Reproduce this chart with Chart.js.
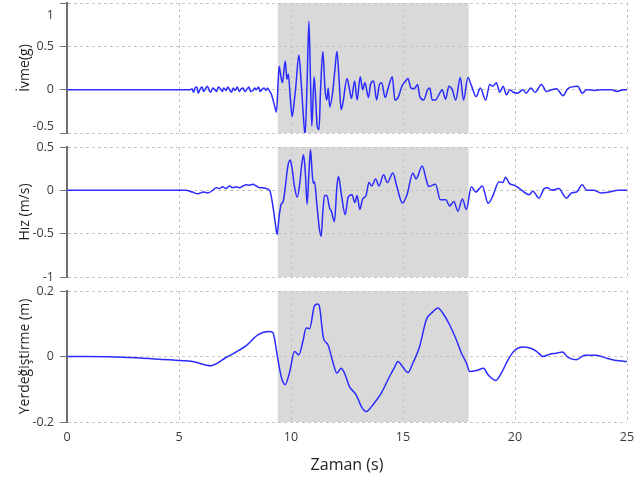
<!DOCTYPE html>
<html>
<head>
<meta charset="utf-8">
<script src="https://cdn.jsdelivr.net/npm/chart.js@4.4.0/dist/chart.umd.min.js"></script>
<style>
  body { margin: 0; background: #fff; }
  #wrap { position: relative; width: 641px; height: 481px; }
  canvas { position: absolute; left: 0; top: 0; }
</style>
</head>
<body>
<div id="wrap">
  <canvas id="acc-chart" width="641" height="481"></canvas>
  <canvas id="vel-chart" width="641" height="481"></canvas>
  <canvas id="disp-chart" width="641" height="481"></canvas>
</div>
<script>
// time window of strong shaking (s), shaded grey
const strongMotion = [9.41, 17.93];

// acceleration (g)
const accTime = [0, 5.5, 5.58, 5.65, 5.72, 5.8, 5.86, 5.95, 6.03, 6.1, 6.18, 6.27, 6.35, 6.42, 6.5, 6.6,
  6.68, 6.75, 6.85, 6.93, 7.0, 7.1, 7.18, 7.25, 7.35, 7.42, 7.5, 7.6, 7.7, 7.78, 7.85, 7.95, 8.05,
  8.12, 8.2, 8.3, 8.38, 8.45, 8.55, 8.62, 8.7, 8.8, 8.88, 8.95,
  9.05, 9.12, 9.2, 9.3, 9.35, 9.42, 9.47, 9.55, 9.62, 9.74, 9.82, 9.88, 9.97, 10.05, 10.15, 10.22,
  10.35, 10.45, 10.55, 10.63, 10.72, 10.8, 10.87, 10.93, 11.03, 11.1, 11.17, 11.25, 11.32, 11.42,
  11.52, 11.6, 11.66, 11.73, 11.85, 11.95, 12.05, 12.15, 12.24, 12.32, 12.5, 12.6, 12.7, 12.84,
  12.95, 13.09, 13.2, 13.3, 13.46, 13.55, 13.69, 13.82, 13.95, 14.05, 14.2, 14.35, 14.52, 14.64,
  14.8, 14.95, 15.12, 15.22, 15.35, 15.5, 15.65, 15.75, 15.92, 16.1, 16.2, 16.3, 16.45, 16.6,
  16.75, 16.9, 17.05, 17.2, 17.35, 17.56, 17.7, 17.9, 18.05, 18.27, 18.45, 18.69, 18.87, 19.02,
  19.17, 19.32, 19.47, 19.62, 19.77, 19.92, 20.12, 20.35, 20.5, 20.7, 20.9, 21.18, 21.4, 21.55,
  21.85, 22.15, 22.35, 22.8, 23.0, 23.2, 23.55, 23.85, 24.3, 24.55, 24.85, 25];
const accG = [0, 0, 0.01, -0.03, 0.02, 0.03, -0.04, 0.01, 0.03, -0.02, 0.01, 0.04, -0.01, -0.03, 0.02, 0.0,
  -0.02, 0.03, 0.01, -0.02, 0.02, -0.01, 0.03, 0.0, -0.03, 0.02, -0.01, 0.03, -0.02, 0.01, 0.02, -0.02, 0.01,
  0.03, -0.02, -0.01, 0.02, 0.0, 0.03, -0.02, 0.0, 0.02, -0.01, 0.02,
  -0.02, -0.05, -0.12, -0.22, -0.26, 0.05, 0.27, 0.15, 0.08, 0.33, 0.12, 0.18, -0.1, -0.31, -0.12, 0.05,
  0.40, 0.1, -0.3, -0.52, 0.1, 0.79, 0.1, -0.42, 0.15, -0.1, -0.42, -0.46, 0.0, 0.44,
  0.0, -0.12, 0.02, -0.2, -0.05, 0.2, 0.44, 0.1, -0.23, -0.15, 0.13, 0.02, -0.1, 0.1,
  -0.12, 0.15, 0.0, 0.08, -0.09, 0.06, 0.1, -0.12, 0.06, 0.08, -0.09, 0.03, 0.15, -0.12,
  -0.08, 0.04, 0.1, 0.13, 0.02, 0.01, 0.06, -0.08, -0.12, 0.0, 0.02, -0.12, -0.12, -0.06,
  0.0, -0.11, 0.04, 0.0, -0.12, 0.14, -0.12, 0.14, 0.05, -0.08, 0.02, -0.12, 0.06, 0.04,
  0.08, -0.03, 0.04, -0.06, 0.0, -0.03, -0.04, 0.0, -0.04, 0.02, -0.03, 0.06, -0.02, -0.01,
  0.01, -0.07, 0.01, 0.04, -0.04, 0.0, -0.01, 0.0, 0.0, -0.02, 0.0, 0.0];

// velocity (m/s)
const velTime = [0, 5.3, 5.6, 5.84, 6.1, 6.3, 6.5, 6.66, 6.8, 6.95, 7.1, 7.25, 7.4, 7.55, 7.7, 7.85,
  8.0, 8.15, 8.3, 8.45, 8.6, 8.75, 8.9, 9.05, 9.19, 9.3, 9.38, 9.47, 9.56, 9.65, 9.75, 9.86, 9.96,
  10.05, 10.15, 10.28, 10.4, 10.48, 10.56, 10.64, 10.72, 10.8, 10.87, 10.95, 11.0, 11.05, 11.15,
  11.27, 11.35, 11.42, 11.5, 11.6, 11.72, 11.8, 11.94, 12.05, 12.12, 12.25, 12.42, 12.55, 12.72,
  12.85, 12.95, 13.07, 13.2, 13.35, 13.48, 13.6, 13.78, 13.93, 14.13, 14.3, 14.55, 14.72, 14.97,
  15.18, 15.44, 15.58, 15.86, 16.03, 16.15, 16.45, 16.67, 16.92, 17.08, 17.27, 17.45, 17.65, 17.83,
  18.05, 18.25, 18.54, 18.8, 19.0, 19.29, 19.45, 19.58, 19.75, 19.95, 20.1, 20.3, 20.63, 20.8,
  21.07, 21.3, 21.45, 21.65, 21.95, 22.3, 22.52, 22.75, 23.0, 23.2, 23.5, 23.85, 24.2, 24.6, 25];
const velMs = [0, 0, -0.02, -0.04, -0.02, -0.03, 0.0, 0.03, 0.02, 0.04, 0.02, 0.05, 0.03, 0.04, 0.03, 0.05,
  0.065, 0.06, 0.07, 0.05, 0.03, 0.03, 0.02, 0.0, -0.18, -0.38, -0.51, -0.3, -0.16, -0.13, 0.05, 0.28, 0.35,
  0.25, 0.05, -0.08, 0.1, 0.3, 0.41, 0.2, -0.16, 0.2, 0.47, 0.18, 0.08, 0.1, -0.15,
  -0.45, -0.53, -0.25, -0.06, -0.06, -0.2, -0.24, -0.36, 0.05, 0.16, -0.05, -0.28, -0.08, -0.05,
  -0.14, -0.06, -0.22, -0.1, -0.06, 0.09, 0.05, 0.13, 0.05, 0.18, 0.09, 0.2, 0.05, -0.145,
  -0.05, 0.2, 0.13, 0.28, 0.13, 0.045, 0.07, -0.11, -0.11, -0.18, -0.13, -0.24, -0.1, -0.22,
  0.04, -0.02, 0.05, -0.15, -0.07, 0.1, 0.09, 0.15, 0.08, 0.06, 0.04, 0.0, -0.05, -0.01,
  -0.09, 0.02, 0.03, 0.0, 0.02, -0.09, -0.03, -0.02, 0.065, 0.0, 0.0, -0.03, -0.02, 0.0, 0.0];

// displacement (m)
const dispTime = [0, 2.5, 5.02, 5.61, 6.43, 7.1, 8.0, 8.52, 9.04, 9.19, 9.41, 9.56, 9.74, 9.93, 10.16,
  10.35, 10.53, 10.68, 10.83, 11.05, 11.2, 11.27, 11.45, 11.65, 11.84, 12.05, 12.24, 12.39, 12.61,
  12.91, 13.14, 13.36, 13.65, 14.03, 14.4, 14.62, 14.77, 15.0, 15.22, 15.44, 15.74, 16.04, 16.34,
  16.56, 16.78, 17.08, 17.38, 17.61, 17.83, 17.98, 18.28, 18.6, 18.8, 19.14, 19.39, 19.69, 19.99,
  20.36, 20.66, 20.96, 21.25, 21.55, 21.85, 22.12, 22.37, 22.74, 23.11, 23.63, 24.08, 24.53, 25];
const dispM = [0, -0.002, -0.012, -0.015, -0.028, -0.003, 0.033, 0.066, 0.076, 0.073, -0.007, -0.061, -0.086, -0.05, 0.015,
  0.005, 0.046, 0.087, 0.085, 0.155, 0.16, 0.153, 0.056, 0.036, -0.01, -0.051, -0.036, -0.051, -0.092,
  -0.117, -0.153, -0.168, -0.148, -0.112, -0.061, -0.033, -0.015, -0.033, -0.049, -0.02, 0.03, 0.112, 0.137,
  0.148, 0.132, 0.097, 0.051, 0.01, -0.02, -0.046, -0.043, -0.036, -0.056, -0.073, -0.051, -0.01, 0.019,
  0.029, 0.026, 0.016, 0.0, 0.007, 0.01, 0.014, -0.003, -0.01, 0.004, 0.004, -0.005, -0.012, -0.015];

const xTicks = { min: 0, max: 25, step: 5 };

Chart.defaults.font.family = "'Open Sans', sans-serif";

const shadeBand = {
  id: 'shadeBand',
  beforeDraw(chart) {
    const x = chart.scales.x;
    const area = chart.chartArea;
    const x1 = x.getPixelForValue(strongMotion[0]);
    const x2 = x.getPixelForValue(strongMotion[1]);
    chart.ctx.save();
    chart.ctx.fillStyle = '#d9d9d9';
    chart.ctx.fillRect(x1, area.top, x2 - x1, area.bottom - area.top);
    chart.ctx.restore();
  }
};

function makePanel(id, time, values, yTitle, yMin, yMax, yStep, padTop, padBottom, isBottom, shiftEdges) {
  new Chart(document.getElementById(id).getContext('2d'), {
    type: 'line',
    data: {
      datasets: [{
        data: time.map((t, i) => ({ x: t, y: values[i] })),
        borderColor: '#2b2bff',
        borderWidth: 1.5,
        pointRadius: 0,
        cubicInterpolationMode: 'monotone'
      }]
    },
    options: {
      responsive: false,
      animation: false,
      layout: { padding: { top: padTop, bottom: padBottom, left: 0, right: 14 } },
      plugins: { legend: { display: false }, tooltip: { enabled: false } },
      scales: {
        x: {
          type: 'linear',
          min: xTicks.min,
          max: xTicks.max,
          ticks: { display: isBottom, stepSize: xTicks.step, padding: 8, color: '#3a3a3a', font: { size: 12.5 } },
          grid: { color: '#c4c4c4', drawTicks: false },
          border: { display: false, dash: [3, 3] },
          title: { display: isBottom, text: 'Zaman (s)', color: '#1e1e1e', font: { size: 16 }, padding: { top: 0, bottom: 6 } },
          afterFit: s => { s.height = isBottom ? 59 : 0; s.paddingLeft = 0; s.paddingRight = 0; }
        },
        y: {
          min: yMin,
          max: yMax,
          ticks: {
            stepSize: yStep,
            padding: 6,
            color: '#3a3a3a',
            font: { size: 12.5, lineHeight: 1 },
            callback: v => {
              const s = String(Math.round(v * 100) / 100);
              if (shiftEdges && v === yMax) return ['', '', s];
              if (shiftEdges && v === yMin) return [s, ''];
              return s;
            }
          },
          grid: { color: '#c4c4c4', tickColor: '#707070', tickLength: 7 },
          border: { color: '#707070', width: 2, dash: [3, 3] },
          title: { display: true, text: yTitle, color: '#1e1e1e', font: { size: 14 }, padding: { top: 17, bottom: 0 } },
          afterFit: s => { s.width = 67; s.paddingTop = 0; s.paddingBottom = 0; }
        }
      }
    },
    plugins: [shadeBand]
  });
}

makePanel('acc-chart', accTime, accG, 'İvme(g)', -0.5, 1, 0.5, 3, 348, false, true);
makePanel('vel-chart', velTime, velMs, 'Hız (m/s)', -1, 0.5, 0.5, 147, 204, false, false);
makePanel('disp-chart', dispTime, dispM, 'Yerdeğiştirme (m)', -0.2, 0.2, 0.2, 291, 0, true, false);
</script>
</body>
</html>
